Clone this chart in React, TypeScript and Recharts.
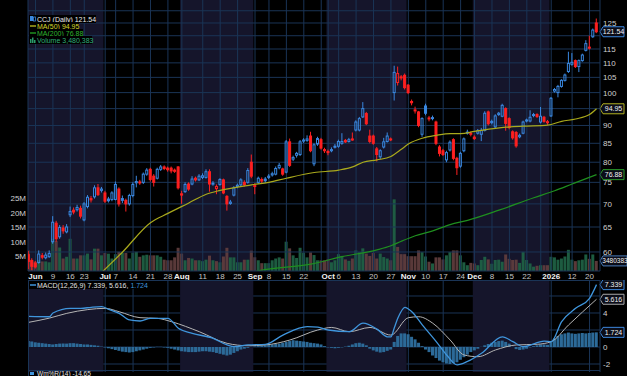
import React from "react";
import { ComposedChart, Bar, Line, XAxis, YAxis, CartesianGrid, ReferenceArea, ReferenceLine, Cell } from "recharts";

// ---------- DATA (trading days, index -1 = 2025-05-29 ... 162 = 2026-01-22) ----------
const FIRST_INDEX = -1;

const opens = [59.5,58.4,57.9,58.0,59.3,58.9,59.1,62.0,65.8,63.0,64.8,64.0,67.6,68.6,68.7,69.0,66.5,69.4,71.2,71.6,73.7,73.1,72.5,71.1,71.0,71.0,73.4,71.2,70.8,70.0,71.9,74.9,75.0,75.0,77.0,78.2,76.5,76.0,78.2,78.8,78.5,78.5,78.0,78.8,72.3,72.8,74.6,74.6,76.0,75.6,76.2,76.2,77.6,74.6,73.5,74.5,75.6,71.7,70.1,72.0,74.0,74.4,75.0,75.0,80.0,74.3,75.0,75.7,75.8,76.2,76.8,77.0,78.6,78.3,77.5,85.4,80.8,81.8,82.0,85.6,85.8,87.0,79.6,84.8,86.0,83.3,82.8,83.0,84.2,84.2,85.0,85.8,85.5,86.2,88.7,88.7,92.5,93.5,87.0,87.0,83.5,81.4,84.0,85.5,86.2,100.0,103.3,105.2,105.7,102.4,97.2,94.6,94.0,87.5,95.8,92.2,92.0,91.0,84.0,83.0,80.6,83.2,86.0,81.0,79.0,83.0,87.8,87.8,86.7,87.8,87.5,88.6,94.0,91.2,89.6,93.2,92.7,95.0,92.0,88.2,88.0,86.8,87.8,91.3,91.3,93.2,93.2,91.0,92.4,90.8,92.8,100.5,100.0,102.0,104.0,107.0,109.5,110.8,108.7,110.8,114.5,115.7,119.6,125.0];
const highs = [60.2,58.8,58.3,60.3,59.8,59.9,60.3,67.3,66.3,65.4,65.4,65.6,69.4,69.2,69.8,69.6,70.4,72.0,71.8,74.3,74.6,73.9,73.0,71.6,72.9,75.2,73.8,71.9,71.2,72.3,75.0,76.6,75.6,77.4,78.5,78.6,77.0,78.6,79.3,79.2,78.9,78.9,78.4,79.0,73.0,75.0,75.0,76.5,76.4,77.0,77.2,78.2,78.2,75.3,74.5,76.0,75.9,72.0,70.9,74.1,74.7,76.0,75.5,78.5,82.0,74.8,76.4,76.2,76.3,77.0,77.6,78.9,79.8,78.6,85.9,86.3,81.7,82.7,85.9,86.4,87.2,88.2,85.0,86.8,86.5,83.8,83.3,83.9,84.8,86.0,87.8,86.2,86.5,88.0,91.5,92.5,97.0,94.0,88.8,87.4,84.0,83.4,86.5,88.0,86.6,109.0,108.7,105.8,106.3,102.8,97.8,95.6,94.3,92.4,96.5,92.8,92.9,91.4,84.5,83.5,83.0,85.8,86.4,81.4,82.7,86.6,88.8,88.3,87.2,89.0,89.3,94.2,94.4,91.7,93.3,94.0,96.5,95.4,92.4,88.6,88.4,87.7,91.4,92.0,94.5,93.7,93.6,95.5,92.8,91.6,98.6,101.5,102.5,104.4,106.3,114.0,113.5,111.2,111.2,113.3,118.3,120.0,122.8,126.8];
const lows = [56.8,56.6,56.9,57.8,58.6,58.6,58.9,61.6,62.0,62.6,63.6,63.7,67.1,67.7,68.3,66.8,66.2,69.0,70.3,71.2,71.8,72.6,70.2,70.3,70.6,70.8,69.4,70.2,68.3,69.6,71.5,73.8,74.4,74.6,76.6,75.2,74.0,75.7,77.8,78.0,77.6,77.2,77.3,73.3,70.0,72.5,73.0,74.3,75.2,75.3,75.8,75.9,72.8,74.2,72.2,74.2,72.2,68.5,69.8,71.7,73.6,74.0,74.0,74.7,76.0,72.2,74.6,74.8,74.9,75.8,76.4,76.7,78.2,76.6,77.2,78.8,80.3,81.2,81.6,85.1,85.4,82.6,79.0,84.3,83.3,82.4,81.8,82.6,83.6,83.8,84.6,85.1,85.2,85.7,88.3,88.3,92.2,90.1,85.0,84.6,80.2,80.8,83.6,85.2,85.6,97.5,102.3,104.0,101.0,99.5,96.0,93.5,89.5,86.8,93.0,91.2,91.5,84.5,81.5,81.6,80.0,82.8,80.5,76.8,78.6,82.6,87.4,86.9,85.9,87.4,85.6,88.3,90.0,90.3,89.2,92.8,92.4,88.5,88.9,86.0,83.8,86.4,87.5,90.9,90.9,92.4,92.2,90.6,90.8,90.2,92.5,100.0,98.5,101.6,103.6,106.5,109.0,108.2,106.8,110.4,114.1,114.8,119.2,121.0];
const closes = [58.2,57.3,57.2,59.6,59.0,59.4,59.7,66.0,62.6,64.9,64.2,65.0,68.3,68.2,69.2,67.3,70.0,71.5,70.9,73.7,72.1,73.4,70.6,70.7,72.5,74.5,70.0,70.8,70.0,71.9,74.5,75.2,75.1,77.0,78.0,75.7,75.0,78.2,78.8,78.4,78.1,77.8,77.7,73.7,72.0,74.5,73.4,75.8,75.6,76.5,76.6,77.6,74.6,74.8,74.0,75.7,72.5,70.0,70.4,73.7,74.3,75.6,74.4,77.9,76.5,74.0,76.0,75.3,75.4,76.5,77.1,78.4,79.2,77.0,85.4,79.2,81.2,82.3,85.4,85.9,86.2,83.0,84.6,86.3,83.7,83.0,82.5,83.3,84.0,85.5,85.5,85.4,86.0,85.9,91.0,92.0,95.0,90.5,85.5,85.0,82.0,83.0,85.4,87.0,86.0,106.7,106.3,104.8,101.6,100.0,96.8,94.4,90.0,92.0,93.6,92.0,92.3,85.0,82.3,82.0,82.5,85.3,81.0,78.6,82.3,86.2,88.1,87.5,86.3,88.5,88.6,93.6,90.5,90.8,92.8,93.6,96.0,90.6,89.4,86.5,84.3,87.2,91.0,91.6,92.4,92.9,92.6,92.7,91.2,91.1,98.2,101.0,102.0,104.0,105.8,109.8,110.2,108.7,110.8,112.8,117.0,115.3,122.2,121.54];
// volume in millions of shares
const volumesM = [7.1,3.5,3.2,3.7,3.3,3.3,3.0,11.1,10.3,8.1,4.3,4.9,11.1,4.3,4.3,5.4,5.4,6.0,4.0,7.7,7.7,5.4,6.2,6.0,4.3,5.8,6.6,6.2,6.2,4.3,6.3,6.6,4.9,5.4,5.6,5.4,5.4,5.4,4.9,3.9,3.7,3.7,4.7,8.0,6.0,3.7,4.5,4.3,3.7,3.7,3.4,3.9,5.3,3.7,3.4,3.0,5.0,8.0,4.7,4.7,3.0,3.0,3.9,3.9,7.0,4.7,3.7,2.7,2.7,2.7,3.7,4.3,4.7,4.3,10.1,7.8,5.4,4.5,8.0,6.3,4.7,6.4,5.5,3.7,3.7,3.7,4.0,3.0,3.7,5.8,5.2,4.0,3.5,4.3,7.1,6.5,7.8,6.0,5.2,6.2,4.3,6.0,4.8,4.3,3.7,24.7,8.3,5.8,5.8,5.1,5.1,5.1,7.1,6.5,5.0,3.2,2.6,4.7,4.7,4.0,5.4,6.5,7.1,7.1,5.4,3.0,2.0,2.8,2.6,2.0,3.8,4.9,4.0,2.5,3.8,3.9,3.2,5.7,4.2,3.8,3.9,2.8,6.6,3.8,2.6,1.5,1.8,2.0,2.0,2.0,4.9,4.7,3.9,4.3,5.0,7.3,3.9,3.4,3.7,3.9,5.7,4.2,5.7,3.48];
const macdHist = [0.7,0.65,0.55,0.5,0.45,0.4,0.35,0.3,0.35,0.4,0.4,0.4,0.45,0.45,0.4,0.35,0.3,0.3,0.25,0.2,0.15,0.05,-0.05,-0.15,-0.25,-0.35,-0.45,-0.55,-0.6,-0.65,-0.6,-0.5,-0.4,-0.3,-0.2,-0.1,-0.05,0.02,0.02,-0.05,-0.1,-0.2,-0.3,-0.4,-0.5,-0.55,-0.6,-0.6,-0.6,-0.55,-0.5,-0.5,-0.55,-0.6,-0.7,-0.8,-0.9,-1.0,-0.9,-0.7,-0.5,-0.3,-0.2,-0.1,0.02,0.05,0.1,0.15,0.2,0.25,0.3,0.35,0.4,0.5,0.6,0.7,0.8,0.75,0.7,0.65,0.6,0.5,0.45,0.4,0.3,0.1,-0.05,-0.1,-0.15,-0.1,-0.05,0.05,0.15,0.3,0.45,0.5,0.4,0.2,-0.2,-0.4,-0.55,-0.65,-0.6,-0.45,-0.3,0.6,1.3,1.6,1.6,1.5,1.2,0.9,0.5,0.1,-0.3,-0.6,-1.0,-1.3,-1.6,-1.8,-1.95,-2.0,-1.9,-1.8,-1.5,-1.2,-0.9,-0.6,-0.4,-0.2,0.02,0.2,0.35,0.5,0.6,0.7,0.75,0.6,0.4,0.02,-0.25,-0.35,-0.3,-0.2,-0.05,0.1,0.2,0.3,0.3,0.25,0.6,1.0,1.3,1.5,1.6,1.7,1.6,1.55,1.6,1.65,1.6,1.65,1.7,1.724];

// moving averages (index, value)
const ma50Idx = [19,26,34,39,45,50,54,63,68,73,81,88,92,95,99,103,106,108,112,116,120,123,127,136,141,148,152,156,160,162];
const ma50Val = [55.6,60.0,65.9,67.9,70.2,72.2,73.1,74.4,75.0,76.0,77.4,78.0,78.8,80.0,80.6,81.5,83.4,84.8,86.4,87.2,87.7,87.7,88.3,89.5,89.8,90.1,91.2,91.9,93.2,94.95];
const ma200Idx = [61,66,80,89,99,103,106,110,115,120,125,134,144,150,155,159,162];
const ma200Val = [55.9,56.6,57.7,59.1,60.4,61.2,62.1,63.2,64.2,65.5,66.4,68.6,71.4,73.0,74.6,75.9,76.88];

// MACD(12,26,9) lines
const macdIdx = [-1,5,6,11,14,17,20,22,25,28,31,34,39,42,46,52,56,58,62,67,72,79,82,85,91,95,99,102,103,104,105,107,109,112,116,119,122,125,129,135,138,141,147,149,152,156,160,162];
const macdVal = [3.6,3.56,4.0,4.55,4.55,4.67,4.74,4.43,3.96,3.18,3.06,3.37,3.37,2.2,1.6,1.02,0.24,0.04,0.24,0.32,1.4,2.4,2.35,2.0,1.8,2.8,2.1,1.2,1.2,2.3,3.4,4.67,4.15,2.6,0.63,-0.94,-2.1,-1.7,-0.74,1.2,0.63,0.04,0.7,0.63,2.98,4.55,5.73,7.339];
const sigIdx = [-1,5,10,16,21,25,31,36,40,48,56,62,67,74,82,86,91,97,103,108,111,115,120,124,128,133,139,145,149,154,162];
const sigVal = [2.9,3.4,3.96,4.4,4.55,4.15,3.45,3.37,2.98,1.8,0.43,0.15,0.24,0.82,2.0,2.3,1.8,2.3,1.4,3.45,3.56,2.8,0.82,-0.94,-1.14,-0.35,0.24,0.32,0.63,2.6,5.616];

// x-axis ticks
const tickIdx = [1,6,11,15,21,24,29,34,39,43,49,54,59,64,68,73,78,85,88,93,98,103,108,113,118,123,127,132,137,142,149,155,160];
const tickLabels = ["Jun","9","16","23","Jul","7","14","21","28","Aug","11","18","25","Sep","8","15","22","Oct","6","13","20","27","Nov","10","17","24","Dec","8","15","22","2026","12","20"];
const boldLabels = ["Jun","Jul","Aug","Sep","Oct","Nov","Dec","2026"];
const gridIdx = [1,6,11,15,21,24,29,34,39,43,49,54,59,64,68,73,78,83,85,88,93,98,103,108,113,118,123,127,132,137,142,146,149,155,160];

const shadeFrom = [-1.15, 42.5, 84.5, 126.5];
const shadeTo = [20.5, 63.5, 107.5, 148.5];

const priceTicks = [60,65,70,75,80,85,90,95,100,105,110,115,120,125,130];
const hiddenPriceLabels = [95, 120, 130]; // covered by the value boxes / top edge
const volTicks = [5e6,10e6,15e6,20e6,25e6];
const volTickLabels = ["5M","10M","15M","20M","25M"];
const macdTicks = [-2,0,2,4,6];
const hiddenMacdLabels = [2, 6]; // covered by the value boxes

// ---------- derived tables ----------
const rows = opens.map((o, k) => {
  const c = closes[k];
  const prev = k > 0 ? closes[k - 1] : o;
  return { i: k + FIRST_INDEX, o, h: highs[k], l: lows[k], c, hl: [lows[k], highs[k]], vol: volumesM[k] * 1e6, up: c >= prev, hist: macdHist[k] };
});
const ma50Data = ma50Idx.map((i, k) => ({ i, v: ma50Val[k] }));
const ma200Data = ma200Idx.map((i, k) => ({ i, v: ma200Val[k] }));
const macdData = macdIdx.map((i, k) => ({ i, v: macdVal[k] }));
const sigData = sigIdx.map((i, k) => ({ i, v: sigVal[k] }));

// ---------- style ----------
const FONT = "Liberation Sans, Arial, Helvetica, sans-serif";
const BG_SHADE = "#15152b";
const GRID = "#1a3456";
const BLUE = "#3a88e0";
const RED = "#ff2020";
const MA50C = "#a9a91c";
const MA200C = "#1f8f1f";
const VOL_UP = "#1f6345";
const VOL_DN = "#613e3e";
const MACD_C = "#3f95dc";
const SIG_C = "#b4b4b4";
const HIST_C = "#2c6a98";
const X_DOMAIN: [number, number] = [-1.15, 163];
const W = 627;

const Candle = (props: any) => {
  const { x, y, width, height, payload } = props;
  if (x == null || !payload || !isFinite(y)) return null;
  const { o, h, l, c, up } = payload;
  const lnH = Math.log(h);
  const span = lnH - Math.log(l) || 1e-6;
  const yOf = (v: number) => y + (height * (lnH - Math.log(v))) / span;
  const color = up ? BLUE : RED;
  const hollow = c > o;
  const cx = x + width / 2;
  const yTop = yOf(Math.max(o, c));
  const yBot = Math.max(yOf(Math.min(o, c)), yTop + 1);
  return (
    <g>
      <line x1={cx} x2={cx} y1={y} y2={yTop} stroke={color} strokeWidth={1} />
      <line x1={cx} x2={cx} y1={yBot} y2={y + height} stroke={color} strokeWidth={1} />
      <rect x={x + 0.5} y={yTop} width={Math.max(1, width - 1)} height={yBot - yTop} fill={hollow ? "none" : color} stroke={color} strokeWidth={1} />
    </g>
  );
};

const ValueBox = (props: any) => {
  const { viewBox, text, border, fs = 7, w = 24 } = props;
  if (!viewBox) return null;
  const bx = viewBox.x + viewBox.width;
  const cy = viewBox.y;
  return (
    <g>
      <path d={`M${bx} ${cy} L${bx + 3} ${cy - 5} L${bx + w} ${cy - 5} L${bx + w} ${cy + 5} L${bx + 3} ${cy + 5} Z`} fill="#0b0d18" stroke={border} strokeWidth={1} />
      <text x={bx + 3 + (w - 3) / 2} y={cy + 2.5} textAnchor="middle" fontSize={fs} fill="#f2f2f2" fontFamily={FONT}>{text}</text>
    </g>
  );
};

const DateTick = (props: any) => {
  const { x, y, payload } = props;
  const k = tickIdx.indexOf(payload.value);
  if (k < 0) return null;
  const label = tickLabels[k];
  const bold = boldLabels.includes(label);
  return (
    <text x={x} y={y + 8} textAnchor="middle" fontSize={8} fontWeight={bold ? "bold" : "normal"} fill={bold ? "#f2f2f2" : "#c4c4c4"} fontFamily={FONT}>{label}</text>
  );
};

const PriceTick = (props: any) => {
  const { x, y, payload } = props;
  if (hiddenPriceLabels.includes(payload.value)) return null;
  return <text x={x + 3} y={y + 3} fontSize={8} fill="#d0d0d0" fontFamily={FONT}>{payload.value}</text>;
};

const VolTick = (props: any) => {
  const { x, y, payload } = props;
  const k = volTicks.indexOf(payload.value);
  if (k < 0) return null;
  return <text x={x - 2} y={y + 3} textAnchor="end" fontSize={8} fill="#d0d0d0" fontFamily={FONT}>{volTickLabels[k]}</text>;
};

const MacdTick = (props: any) => {
  const { x, y, payload } = props;
  if (hiddenMacdLabels.includes(payload.value)) return null;
  return <text x={x + 3} y={y + 3} fontSize={8} fill="#d0d0d0" fontFamily={FONT}>{payload.value}</text>;
};

const abs = (top: number, h: number): React.CSSProperties => ({ position: "absolute", left: 0, top, width: W, height: h });

export default function App() {
  return (
    <div style={{ position: "absolute", left: 0, top: 0, width: W, height: 376, background: "#000", overflow: "hidden" }}>
      {/* back layer: shading + volume */}
      <div style={abs(0, 282)}>
        <ComposedChart width={W} height={282} data={rows} margin={{ top: 0, right: 27, bottom: 11, left: 0 }}>
          <XAxis dataKey="i" type="number" domain={X_DOMAIN} allowDataOverflow hide />
          <YAxis yAxisId="v" orientation="left" width={28} domain={[0, 93.4e6]} ticks={volTicks} interval={0} tick={<VolTick />} tickLine={false} tickSize={0} tickMargin={0} axisLine={{ stroke: GRID }} allowDataOverflow />
          {shadeFrom.map((x1, k) => (
            <ReferenceArea key={k} yAxisId="v" x1={x1} x2={shadeTo[k]} fill={BG_SHADE} fillOpacity={1} stroke="none" ifOverflow="hidden" />
          ))}
          <Bar yAxisId="v" dataKey="vol" barSize={3} isAnimationActive={false}>
            {rows.map((r, k) => (
              <Cell key={k} fill={r.up ? VOL_UP : VOL_DN} fillOpacity={0.92} />
            ))}
          </Bar>
          <ReferenceLine yAxisId="v" y={3480383} stroke="none" label={<ValueBox text="3480383" border="#4a7cb8" fs={6.5} w={27} />} />
        </ComposedChart>
      </div>

      {/* price layer */}
      <div style={abs(0, 282)}>
        <ComposedChart width={W} height={282} data={rows} margin={{ top: 0, right: 0, bottom: 0, left: 28 }}>
          <CartesianGrid yAxisId="p" stroke={GRID} strokeWidth={1} verticalValues={gridIdx} horizontalValues={priceTicks} />
          <XAxis dataKey="i" type="number" domain={X_DOMAIN} allowDataOverflow ticks={tickIdx} interval={0} height={11} tickSize={0} tickMargin={0} tickLine={false} axisLine={{ stroke: GRID }} tick={<DateTick />} />
          <YAxis yAxisId="p" orientation="right" width={27} scale="log" domain={[56.45, 134.56]} allowDataOverflow ticks={priceTicks} interval={0} tick={<PriceTick />} tickLine={false} tickSize={0} tickMargin={0} axisLine={{ stroke: GRID }} />
          <Line yAxisId="p" data={ma200Data} dataKey="v" type="monotone" stroke={MA200C} strokeWidth={1.2} dot={false} isAnimationActive={false} />
          <Line yAxisId="p" data={ma50Data} dataKey="v" type="monotone" stroke={MA50C} strokeWidth={1.2} dot={false} isAnimationActive={false} />
          <Bar yAxisId="p" dataKey="hl" barSize={3} isAnimationActive={false} shape={(p: any) => <Candle {...p} />} />
          <ReferenceLine yAxisId="p" y={121.54} stroke="none" label={<ValueBox text="121.54" border="#3c86dc" />} />
          <ReferenceLine yAxisId="p" y={94.95} stroke="none" label={<ValueBox text="94.95" border="#b0b020" />} />
          <ReferenceLine yAxisId="p" y={76.88} stroke="none" label={<ValueBox text="76.88" border="#2a9a2a" />} />
        </ComposedChart>
      </div>

      {/* MACD panel */}
      <div style={abs(280, 96)}>
        <ComposedChart width={W} height={96} data={rows} margin={{ top: 0, right: 0, bottom: 4, left: 28 }}>
          <XAxis dataKey="i" type="number" domain={X_DOMAIN} allowDataOverflow hide ticks={tickIdx} />
          <YAxis yAxisId="m" orientation="right" width={27} domain={[-2.941, 7.882]} allowDataOverflow ticks={macdTicks} interval={0} tick={<MacdTick />} tickLine={false} tickSize={0} tickMargin={0} axisLine={{ stroke: GRID }} />
          {shadeFrom.map((x1, k) => (
            <ReferenceArea key={k} yAxisId="m" x1={x1} x2={shadeTo[k]} fill={BG_SHADE} fillOpacity={1} stroke="none" ifOverflow="hidden" />
          ))}
          <CartesianGrid yAxisId="m" stroke={GRID} strokeWidth={1} verticalValues={gridIdx} horizontalValues={macdTicks} />
          <Bar yAxisId="m" dataKey="hist" barSize={3} fill={HIST_C} isAnimationActive={false} />
          <Line yAxisId="m" data={sigData} dataKey="v" type="monotone" stroke={SIG_C} strokeWidth={1} dot={false} isAnimationActive={false} />
          <Line yAxisId="m" data={macdData} dataKey="v" type="monotone" stroke={MACD_C} strokeWidth={1.3} dot={false} isAnimationActive={false} />
          <ReferenceLine yAxisId="m" y={7.339} stroke="none" label={<ValueBox text="7.339" border="#3c86dc" />} />
          <ReferenceLine yAxisId="m" y={5.616} stroke="none" label={<ValueBox text="5.616" border="#a8a8a8" />} />
          <ReferenceLine yAxisId="m" y={1.724} stroke="none" label={<ValueBox text="1.724" border="#3c86dc" />} />
        </ComposedChart>
      </div>

      {/* legends and frame */}
      <svg width={W} height={376} style={{ position: "absolute", left: 0, top: 0, pointerEvents: "none" }} fontFamily={FONT}>
        <line x1={28} x2={600} y1={280.5} y2={280.5} stroke={GRID} />
        <line x1={28.5} x2={28.5} y1={280} y2={372} stroke={GRID} />
        <line x1={28} x2={600} y1={370.5} y2={370.5} stroke={GRID} />
        <line x1={28.5} x2={28.5} y1={371} y2={376} stroke={GRID} />

        <rect x={29} y={15} width={67} height={8} fill="#000" />
        <rect x={30} y={16} width={3} height={5} fill={BLUE} />
        <rect x={33.5} y={17} width={2} height={4} fill="none" stroke={BLUE} strokeWidth={0.8} />
        <text x={37} y={21.5} fontSize={7} fill="#e8e8e8">CCJ (Daily) 121.54</text>

        <rect x={29} y={22} width={50} height={8} fill="#000" />
        <line x1={30} x2={36} y1={26} y2={26} stroke={MA50C} strokeWidth={1.5} />
        <text x={37} y={28.5} fontSize={7} fill="#d6d62a">MA(50) 94.95</text>

        <rect x={29} y={29} width={54} height={8} fill="#000" />
        <line x1={30} x2={36} y1={33} y2={33} stroke={MA200C} strokeWidth={1.5} />
        <text x={37} y={35.5} fontSize={7} fill="#2fb52f">MA(200) 76.88</text>

        <rect x={29} y={36} width={63} height={8} fill="#000" />
        <rect x={30} y={39} width={1.5} height={4} fill="#2a9a6a" />
        <rect x={32} y={37.5} width={1.5} height={5.5} fill="#2a9a6a" />
        <rect x={34} y={40} width={1.5} height={3} fill="#2a9a6a" />
        <text x={37} y={42.5} fontSize={7} fill="#2fae78">Volume 3,480,383</text>

        <rect x={29} y={281} width={117} height={8} fill="#000" />
        <line x1={30} x2={36} y1={285} y2={285} stroke={MACD_C} strokeWidth={1.5} />
        <text x={37} y={287.5} fontSize={7} fill="#e0e0e0">MACD(12,26,9) 7.339, 5.616, <tspan fill={MACD_C}>1.724</tspan></text>

        <rect x={30} y={372} width={4} height={3} fill={MACD_C} />
        <text x={37} y={375.5} fontSize={6.5} fill="#e0e0e0">Wm%R(14) -14.65</text>
      </svg>
    </div>
  );
}
